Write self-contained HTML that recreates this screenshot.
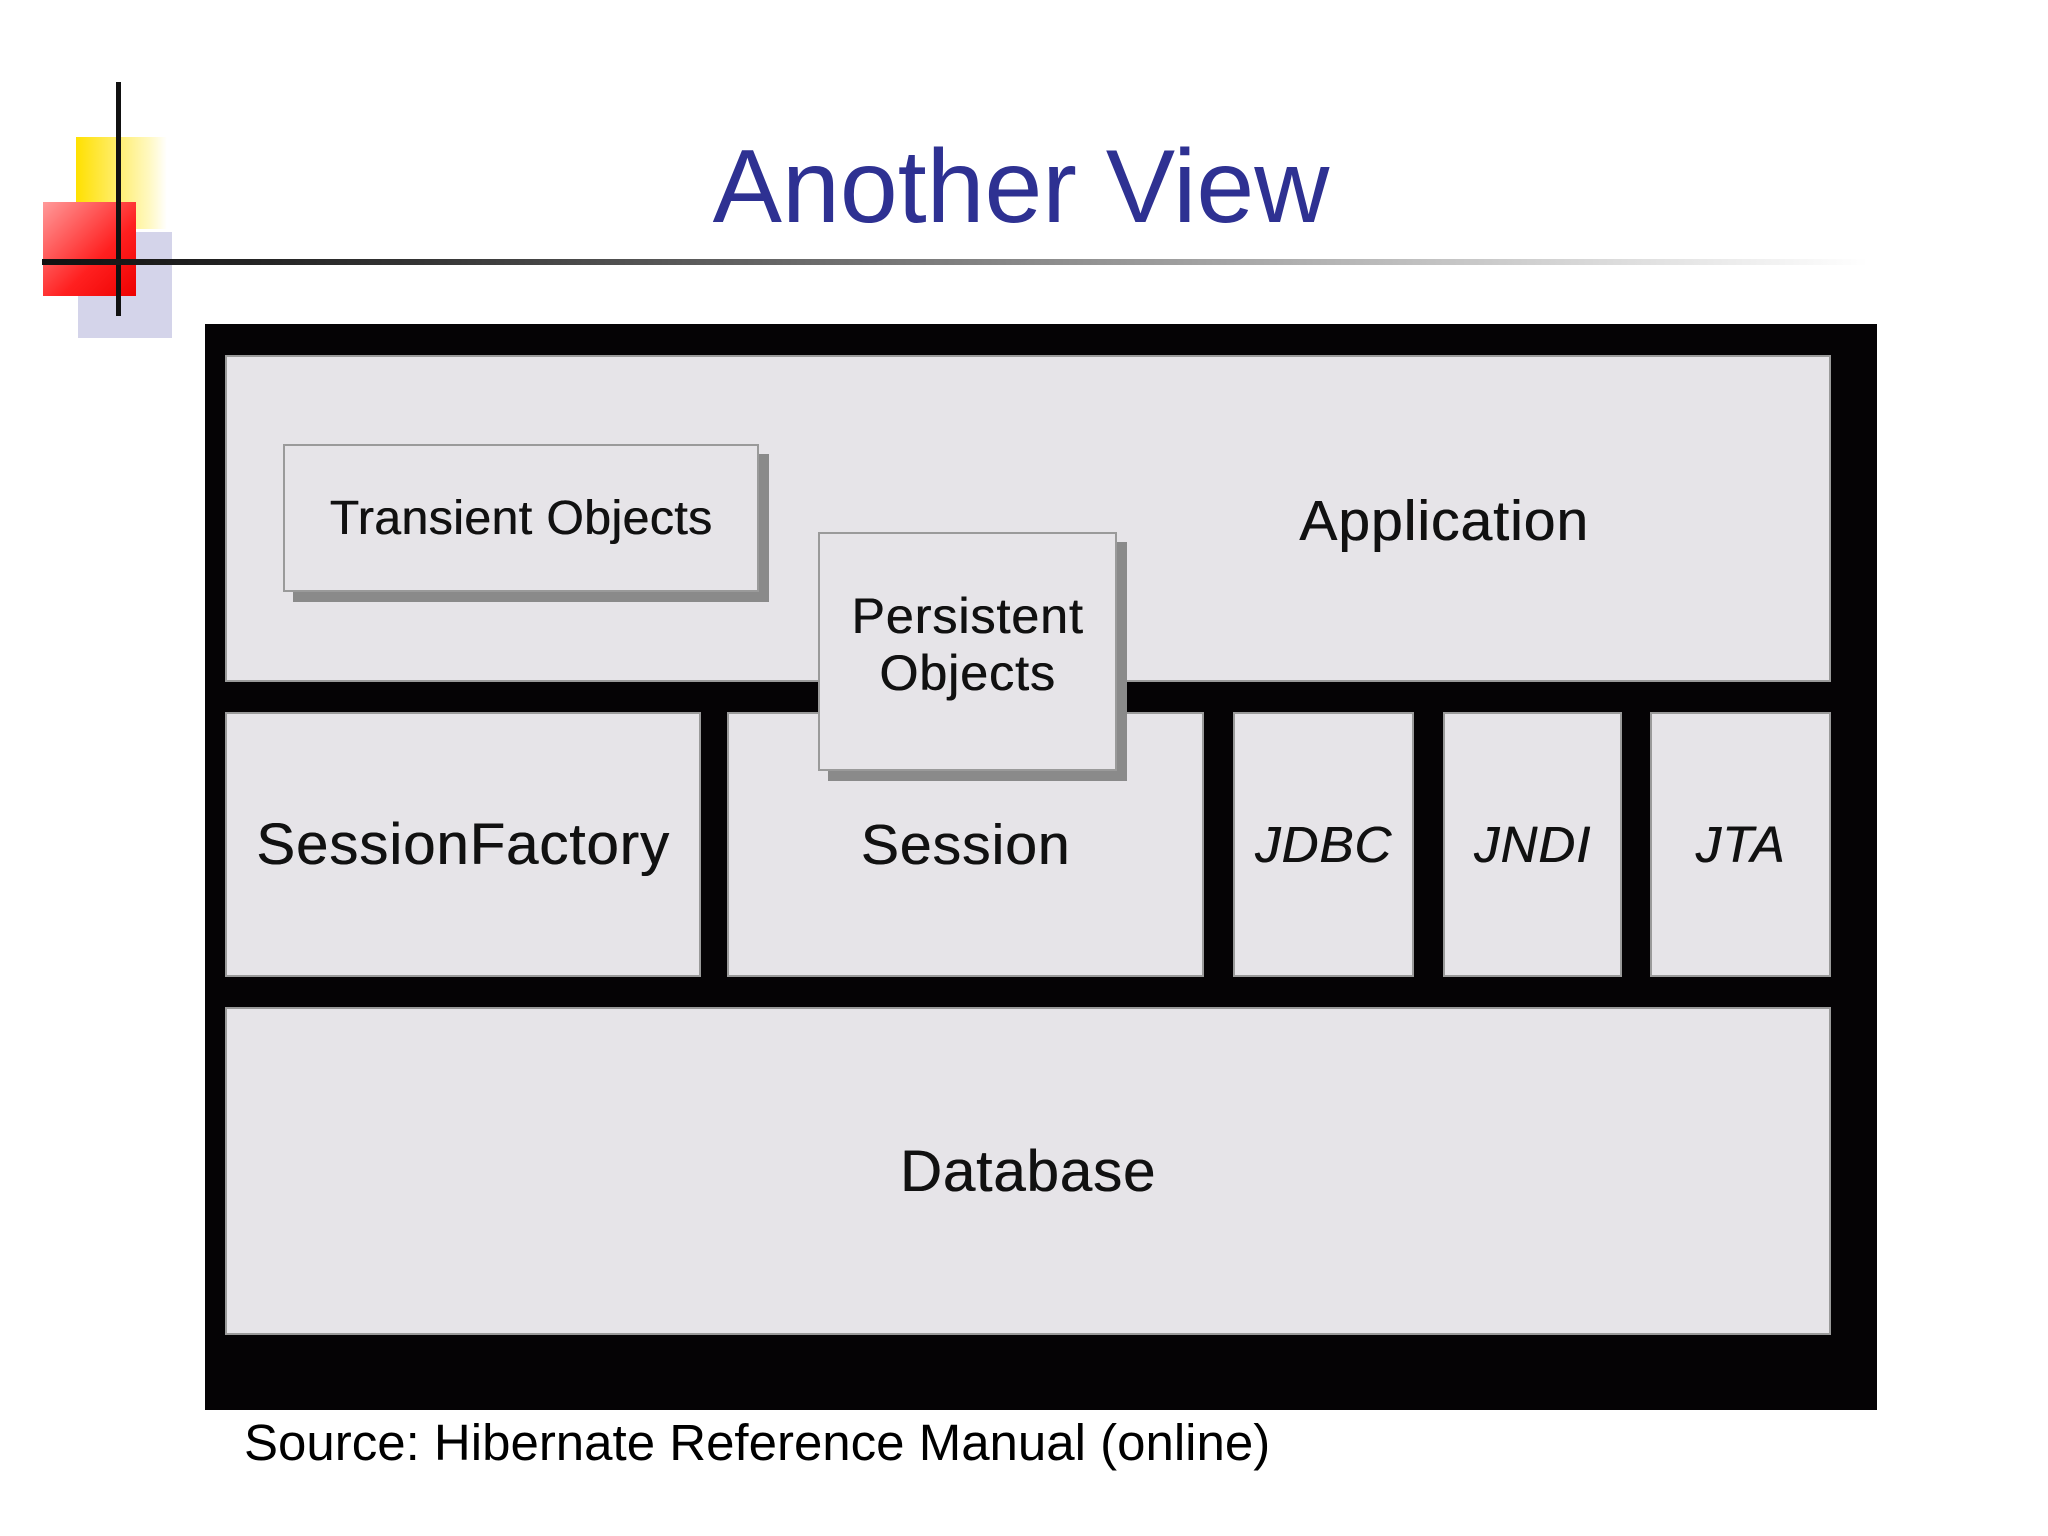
<!DOCTYPE html>
<html><head><meta charset="utf-8"><style>
body{margin:0;width:2048px;height:1536px;background:#fff;position:relative;overflow:hidden;font-family:"Liberation Sans",sans-serif}
.a{position:absolute}
.b{position:absolute;background:#e6e4e8;border:2px solid #9a9a9a;box-sizing:border-box;display:flex;align-items:center;justify-content:center;text-align:center;color:#111;font-size:57px;letter-spacing:1px;text-shadow:0.6px 0 0 #111}
.s{box-shadow:10px 10px 0 #8a8a8a}
</style></head><body>
<div class="a" style="left:76px;top:137px;width:91px;height:92px;background:linear-gradient(90deg,#ffe000,#fff8c0 80%,#fff)"></div>
<div class="a" style="left:78px;top:232px;width:94px;height:106px;background:#d4d4ea"></div>
<div class="a" style="left:43px;top:202px;width:93px;height:94px;background:linear-gradient(135deg,#ff9a9a,#ff2020 60%,#ee0000)"></div>
<div class="a" style="left:116px;top:82px;width:5px;height:234px;background:#111"></div>
<div class="a" style="left:42px;top:259px;width:1826px;height:6px;background:linear-gradient(90deg,#111,#333 20%,#999 60%,#fff)"></div>
<div class="a" style="left:0;top:128px;width:2048px;text-align:center;font-size:104px;color:#2e3192"><span style="position:relative;left:-3px">Another View</span></div>

<div class="a" style="left:205px;top:324px;width:1672px;height:1086px;background:#050305"></div>
<div class="b" style="left:225px;top:355px;width:1606px;height:327px"><span style="position:relative;left:416px;top:2px">Application</span></div>
<div class="b" style="left:225px;top:712px;width:476px;height:265px;font-size:58px">SessionFactory</div>
<div class="b" style="left:727px;top:712px;width:477px;height:265px">Session</div>
<div class="b" style="left:1233px;top:712px;width:181px;height:265px;font-style:italic;font-size:51px">JDBC</div>
<div class="b" style="left:1443px;top:712px;width:179px;height:265px;font-style:italic;font-size:51px">JNDI</div>
<div class="b" style="left:1650px;top:712px;width:181px;height:265px;font-style:italic;font-size:51px">JTA</div>
<div class="b" style="left:225px;top:1007px;width:1606px;height:328px;font-size:58px">Database</div>
<div class="b s" style="left:283px;top:444px;width:476px;height:148px;font-size:48px;letter-spacing:0.5px">Transient Objects</div>
<div class="b s" style="left:818px;top:532px;width:299px;height:239px;font-size:50px;line-height:57px;padding-bottom:14px">Persistent<br>Objects</div>
<div class="a" style="left:244px;top:1413px;font-size:51px;color:#000">Source: Hibernate Reference Manual (online)</div>
</body></html>
